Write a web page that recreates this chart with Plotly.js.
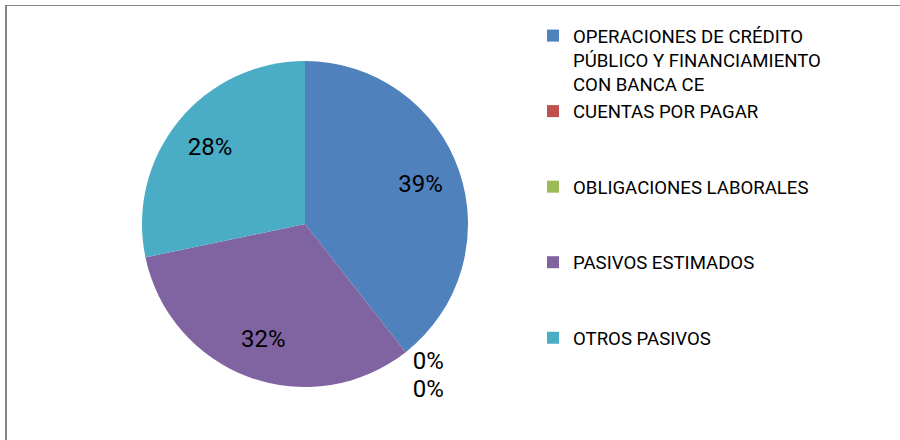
<!DOCTYPE html>
<html>
<head>
<meta charset="utf-8">
<script src="https://cdn.plot.ly/plotly-3.0.1.min.js"></script>
<style>
  html, body { margin: 0; padding: 0; background: #ffffff; }
  #wrap { position: relative; width: 900px; height: 440px; overflow: hidden; }
  #chart { position: absolute; left: 0; top: 0; width: 900px; height: 440px; }
  #frame { position: absolute; left: 5px; top: 5px; width: 1000px; height: 1000px;
           border-top: 1px solid #868686; border-left: 2px solid #868686; pointer-events: none; }
  /* the reference has no leader lines for the outside labels */
  #chart path.textline { display: none !important; }
</style>
</head>
<body>
<div id="wrap">
  <div id="chart"></div>
  <div id="frame"></div>
</div>
<script>
const categories = [
  "OPERACIONES DE CRÉDITO<br>PÚBLICO Y FINANCIAMIENTO<br>CON BANCA CE",
  "CUENTAS POR PAGAR<br> <br> ",
  "OBLIGACIONES LABORALES<br> <br> ",
  "PASIVOS ESTIMADOS<br> <br> ",
  "OTROS PASIVOS<br> <br> "
];
const values = [39, 0, 0, 32, 28];
const colors = ["#4F81BD", "#C0504D", "#9BBB59", "#8064A2", "#4BACC6"];
// which slices carry their label inside (on the ring) and which outside
const insideLabel = [true, false, false, true, true];

const W = 900, H = 440;
const cx = 305, cy = 224, R = 163;
const FONT = "Roboto, Liberation Sans, sans-serif";
const domain = { x: [(cx - R) / W, (cx + R) / W], y: [(H - cy - R) / H, (H - cy + R) / H] };

// main pie: slices, legend, and the outside 0% labels
const pieTrace = {
  type: "pie",
  labels: categories,
  values: values,
  sort: false,
  direction: "clockwise",
  rotation: 0,
  marker: { colors: colors, line: { width: 0 } },
  texttemplate: "%{percent:.0%}",
  textposition: insideLabel.map(v => v ? "none" : "outside"),
  textfont: { family: FONT, size: 24, color: "#000000" },
  outsidetextfont: { family: FONT, size: 24, color: "#000000" },
  domain: domain,
  automargin: false,
  hoverinfo: "none"
};

// transparent ring on top, only to place the inside percentage labels at ~3/4 radius
const labelTrace = {
  type: "pie",
  labels: categories,
  values: values,
  sort: false,
  direction: "clockwise",
  rotation: 0,
  hole: 0.5,
  showlegend: false,
  marker: { colors: colors.map(() => "rgba(0,0,0,0)"), line: { width: 0 } },
  texttemplate: "%{percent:.0%}",
  textposition: insideLabel.map(v => v ? "inside" : "none"),
  insidetextorientation: "horizontal",
  textfont: { family: FONT, size: 24, color: "#000000" },
  insidetextfont: { family: FONT, size: 24, color: "#000000" },
  domain: domain,
  automargin: false,
  hoverinfo: "none"
};

const layout = {
  width: W, height: H,
  margin: { l: 0, r: 0, t: 0, b: 0 },
  paper_bgcolor: "#ffffff",
  showlegend: true,
  legend: {
    x: 533 / W, xanchor: "left",
    y: (H - 17) / H, yanchor: "top",
    valign: "top",
    font: { family: FONT, size: 18.6, color: "#000000" },
    bgcolor: "rgba(0,0,0,0)",
    borderwidth: 0
  }
};

Plotly.newPlot("chart", [pieTrace, labelTrace], layout, { displayModeBar: false, staticPlot: true });
</script>
</body>
</html>
